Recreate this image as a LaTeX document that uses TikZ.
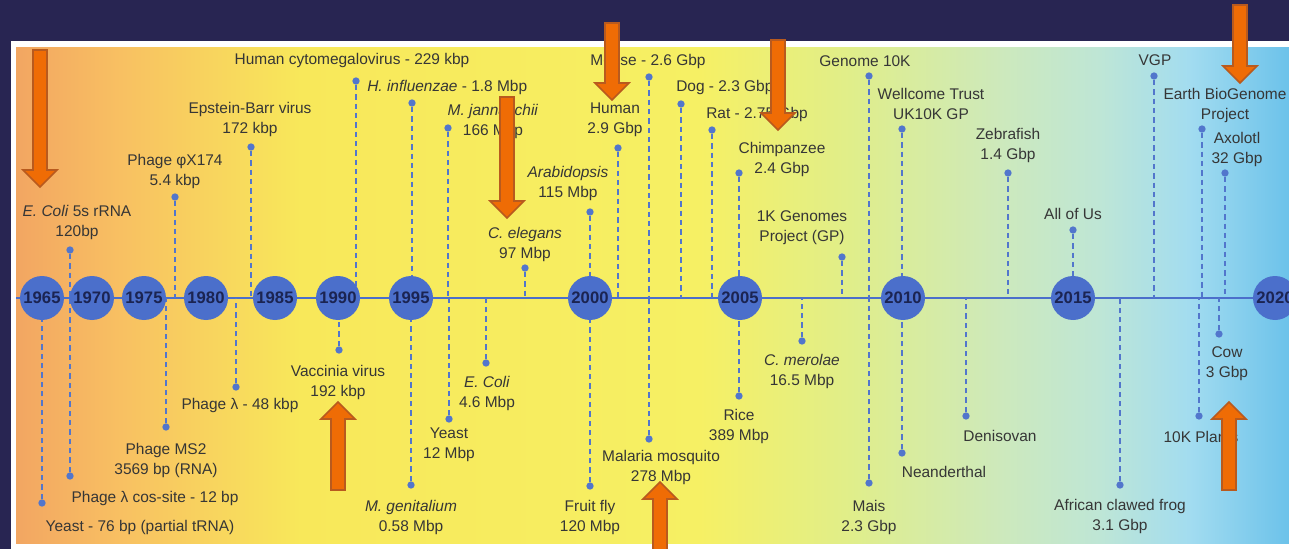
\documentclass[tikz,border=0pt]{standalone}
\usepackage{fontspec}
\setmainfont{Liberation Sans}
\usepackage{tikz}

\definecolor{navy}{HTML}{282552}
\definecolor{yearblue}{HTML}{4B6FCB}
\definecolor{yeartext}{HTML}{1B2452}
\definecolor{stemblue}{HTML}{5276CC}
\definecolor{labelgray}{HTML}{363636}
\definecolor{arrowfill}{HTML}{EF6C05}
\definecolor{arrowedge}{HTML}{B85A1E}

\tikzset{
  yearnode/.style={circle, fill=yearblue, minimum size=33pt, inner sep=0pt,
    font=\fontsize{12.5}{14}\selectfont\bfseries, text=yeartext},
  dot/.style={circle, fill=stemblue, minimum size=5.5pt, inner sep=0pt},
  stem/.style={draw=stemblue, line width=1.1pt, dash pattern=on 4pt off 3pt},
  lbl/.style={font=\fontsize{11.6}{15}\selectfont, text=labelgray, align=center, inner sep=0pt},
  axisline/.style={draw=yearblue, line width=1.5pt},
  bigarrow/.style={fill=arrowfill, draw=arrowedge, line width=1.2pt, line join=miter}
}

% block arrows: x, start, tip
\newcommand{\orangedown}[3]{%
  \draw[bigarrow] ({#1-7},#2) -- ({#1+7},#2) -- ({#1+7},{#3-17}) -- ({#1+17},{#3-17})
    -- (#1,#3) -- ({#1-17},{#3-17}) -- ({#1-7},{#3-17}) -- cycle;}
\newcommand{\orangeup}[3]{%
  \draw[bigarrow] ({#1-7},#2) -- ({#1+7},#2) -- ({#1+7},{#3+17}) -- ({#1+17},{#3+17})
    -- (#1,#3) -- ({#1-17},{#3+17}) -- ({#1-7},{#3+17}) -- cycle;}

\begin{document}
\begin{tikzpicture}[x=0.75pt, y=-0.75pt]
    \useasboundingbox (0,0) rectangle (1289,549);

    % Frame and colour band
    \fill[navy] (0,0) rectangle (1289,549);
    \fill[white] (11,41) rectangle (1289,549);
    \shade[left color={rgb,255:red,242;green,166;blue,98}, right color={rgb,255:red,248;green,192;blue,98}] (16,48) rectangle (121,543);
    \shade[left color={rgb,255:red,248;green,192;blue,98}, right color={rgb,255:red,248;green,232;blue,90}] (120,48) rectangle (301,543);
    \shade[left color={rgb,255:red,248;green,232;blue,90}, right color={rgb,255:red,246;green,240;blue,100}] (300,48) rectangle (701,543);
    \shade[left color={rgb,255:red,246;green,240;blue,100}, right color={rgb,255:red,224;green,238;blue,138}] (700,48) rectangle (851,543);
    \shade[left color={rgb,255:red,224;green,238;blue,138}, right color={rgb,255:red,205;green,233;blue,188}] (850,48) rectangle (1001,543);
    \shade[left color={rgb,255:red,205;green,233;blue,188}, right color={rgb,255:red,190;green,230;blue,214}] (1000,48) rectangle (1101,543);
    \shade[left color={rgb,255:red,190;green,230;blue,214}, right color={rgb,255:red,162;green,220;blue,240}] (1100,48) rectangle (1191,543);
    \shade[left color={rgb,255:red,162;green,220;blue,240}, right color={rgb,255:red,108;green,194;blue,234}] (1190,48) rectangle (1289,543);

    % Timeline
    \coordinate (axis) at (16,298);
    \coordinate (axisend) at (1289,298);
    \draw[axisline] (axis) -- (axisend);

    % Milestones above the timeline
    \node[dot] (ecoli) at (70,250) {};
    \draw[stem] (ecoli) -- (ecoli |- axis);
    \node[lbl] (ecolit) at (77,223) {\textit{E. Coli} 5s rRNA\\120bp};

    \node[dot] (phix) at (175,197) {};
    \draw[stem] (phix) -- (phix |- axis);
    \node[lbl] (phixt) at (175,172) {Phage φX174\\5.4 kbp};

    \node[dot] (ebv) at (251,147) {};
    \draw[stem] (ebv) -- (ebv |- axis);
    \node[lbl] (ebvt) at (250,120) {Epstein-Barr virus\\172 kbp};

    \node[dot] (hcmv) at (356,81) {};
    \draw[stem] (hcmv) -- (hcmv |- axis);
    \node[lbl] (hcmvt) at (352,61) {Human cytomegalovirus - 229 kbp};

    \node[dot] (hinf) at (412,103) {};
    \draw[stem] (hinf) -- (hinf |- axis);
    \node[lbl, anchor=west] (hinft) at (367,88) {\textit{H. influenzae} - 1.8 Mbp};

    \node[dot] (mjan) at (448,128) {};
    \draw[stem] (mjan) -- (mjan |- axis);
    \node[lbl] (mjant) at (493,122) {\textit{M. jannaschii}\\166 Mbp};

    \node[dot] (celeg) at (525,268) {};
    \draw[stem] (celeg) -- (celeg |- axis);
    \node[lbl] (celegt) at (525,245) {\textit{C. elegans}\\97 Mbp};

    \node[dot] (arab) at (590,212) {};
    \draw[stem] (arab) -- (arab |- axis);
    \node[lbl] (arabt) at (568,184) {\textit{Arabidopsis}\\115 Mbp};

    \node[dot] (human) at (618,148) {};
    \draw[stem] (human) -- (human |- axis);
    \node[lbl] (humant) at (615,120) {Human\\2.9 Gbp};

    \node[dot] (mouse) at (649,77) {};
    \draw[stem] (mouse) -- (mouse |- axis);
    \node[lbl] (mouset) at (648,62) {Mouse - 2.6 Gbp};

    \node[dot] (dog) at (681,104) {};
    \draw[stem] (dog) -- (dog |- axis);
    \node[lbl, anchor=west] (dogt) at (676,88) {Dog - 2.3 Gbp};

    \node[dot] (rat) at (712,130) {};
    \draw[stem] (rat) -- (rat |- axis);
    \node[lbl, anchor=west] (ratt) at (706,115) {Rat - 2.75 Gbp};

    \node[dot] (chimp) at (739,173) {};
    \draw[stem] (chimp) -- (chimp |- axis);
    \node[lbl] (chimpt) at (782,160) {Chimpanzee\\2.4 Gbp};

    \node[dot] (kgp) at (842,257) {};
    \draw[stem] (kgp) -- (kgp |- axis);
    \node[lbl] (kgpt) at (802,228) {1K Genomes\\Project (GP)};

    \node[dot] (gtenk) at (869,76) {};
    \draw[stem] (gtenk) -- (gtenk |- axis);
    \node[lbl] (gtenkt) at (865,61) {Genome 10K};

    \node[dot] (uktenk) at (902,129) {};
    \draw[stem] (uktenk) -- (uktenk |- axis);
    \node[lbl] (uktenkt) at (931,104) {Wellcome Trust\\UK10K GP};

    \node[dot] (zebra) at (1008,173) {};
    \draw[stem] (zebra) -- (zebra |- axis);
    \node[lbl] (zebrat) at (1008,146) {Zebrafish\\1.4 Gbp};

    \node[dot] (allofus) at (1073,230) {};
    \draw[stem] (allofus) -- (allofus |- axis);
    \node[lbl] (allofust) at (1073,214) {All of Us};

    \node[dot] (vgp) at (1154,76) {};
    \draw[stem] (vgp) -- (vgp |- axis);
    \node[lbl] (vgpt) at (1155,60) {VGP};

    \node[dot] (ebp) at (1202,129) {};
    \draw[stem] (ebp) -- (ebp |- axis);
    \node[lbl] (ebpt) at (1225,106) {Earth BioGenome\\Project};

    \node[dot] (axolotl) at (1225,173) {};
    \draw[stem] (axolotl) -- (axolotl |- axis);
    \node[lbl] (axolotlt) at (1237,150) {Axolotl\\32 Gbp};

    % Milestones below the timeline
    \node[dot] (trna) at (42,503) {};
    \draw[stem] (trna) -- (trna |- axis);
    \node[lbl] (trnat) at (140,527) {Yeast - 76 bp (partial tRNA)};

    \node[dot] (cos) at (70,476) {};
    \draw[stem] (cos) -- (cos |- axis);
    \node[lbl] (cost) at (155,498) {Phage λ cos-site - 12 bp};

    \node[dot] (ms2) at (166,427) {};
    \draw[stem] (ms2) -- (ms2 |- axis);
    \node[lbl] (ms2t) at (166,460) {Phage MS2\\3569 bp (RNA)};

    \node[dot] (lambda) at (236,387) {};
    \draw[stem] (lambda) -- (lambda |- axis);
    \node[lbl] (lambdat) at (240,405) {Phage λ - 48 kbp};

    \node[dot] (vacc) at (339,350) {};
    \draw[stem] (vacc) -- (vacc |- axis);
    \node[lbl] (vacct) at (338,382) {Vaccinia virus\\192 kbp};

    \node[dot] (mgen) at (411,485) {};
    \draw[stem] (mgen) -- (mgen |- axis);
    \node[lbl] (mgent) at (411,517) {\textit{M. genitalium}\\0.58 Mbp};

    \node[dot] (yeast) at (449,419) {};
    \draw[stem] (yeast) -- (yeast |- axis);
    \node[lbl] (yeastt) at (449,445) {Yeast\\12 Mbp};

    \node[dot] (ecolig) at (486,363) {};
    \draw[stem] (ecolig) -- (ecolig |- axis);
    \node[lbl] (ecoligt) at (487,393) {\textit{E. Coli}\\4.6 Mbp};

    \node[dot] (fly) at (590,486) {};
    \draw[stem] (fly) -- (fly |- axis);
    \node[lbl] (flyt) at (590,517) {Fruit fly\\120 Mbp};

    \node[dot] (mosq) at (649,439) {};
    \draw[stem] (mosq) -- (mosq |- axis);
    \node[lbl] (mosqt) at (661,467) {Malaria mosquito\\278 Mbp};

    \node[dot] (rice) at (739,396) {};
    \draw[stem] (rice) -- (rice |- axis);
    \node[lbl] (ricet) at (739,426) {Rice\\389 Mbp};

    \node[dot] (merolae) at (802,341) {};
    \draw[stem] (merolae) -- (merolae |- axis);
    \node[lbl] (merolaet) at (802,371) {\textit{C. merolae}\\16.5 Mbp};

    \node[dot] (mais) at (869,483) {};
    \draw[stem] (mais) -- (mais |- axis);
    \node[lbl] (maist) at (869,517) {Mais\\2.3 Gbp};

    \node[dot] (neand) at (902,453) {};
    \draw[stem] (neand) -- (neand |- axis);
    \node[lbl] (neandt) at (944,472) {Neanderthal};

    \node[dot] (deniso) at (966,416) {};
    \draw[stem] (deniso) -- (deniso |- axis);
    \node[lbl] (denisot) at (1000,436) {Denisovan};

    \node[dot] (frog) at (1120,485) {};
    \draw[stem] (frog) -- (frog |- axis);
    \node[lbl] (frogt) at (1120,516) {African clawed frog\\3.1 Gbp};

    \node[dot] (plants) at (1199,416) {};
    \draw[stem] (plants) -- (plants |- axis);
    \node[lbl] (plantst) at (1201,437) {10K Plants};

    \node[dot] (cow) at (1219,334) {};
    \draw[stem] (cow) -- (cow |- axis);
    \node[lbl] (cowt) at (1227,364) {Cow\\3 Gbp};

    % Year circles
    \node[yearnode] (y1965) at (42,298) {1965};
    \node[yearnode] (y1970) at (92,298) {1970};
    \node[yearnode] (y1975) at (144,298) {1975};
    \node[yearnode] (y1980) at (206,298) {1980};
    \node[yearnode] (y1985) at (275,298) {1985};
    \node[yearnode] (y1990) at (338,298) {1990};
    \node[yearnode] (y1995) at (411,298) {1995};
    \node[yearnode] (y2000) at (590,298) {2000};
    \node[yearnode] (y2005) at (740,298) {2005};
    \node[yearnode] (y2010) at (903,298) {2010};
    \node[yearnode] (y2015) at (1073,298) {2015};
    \node[yearnode] (y2020) at (1275,298) {2020};

    % Highlight arrows
    \orangedown{40}{50}{187}
    \orangedown{612}{23}{100}
    \orangedown{778}{40}{130}
    \orangedown{507}{97}{218}
    \orangedown{1240}{5}{83}
    \orangeup{338}{490}{402}
    \orangeup{660}{560}{482}
    \orangeup{1229}{490}{402}

\end{tikzpicture}
\end{document}
